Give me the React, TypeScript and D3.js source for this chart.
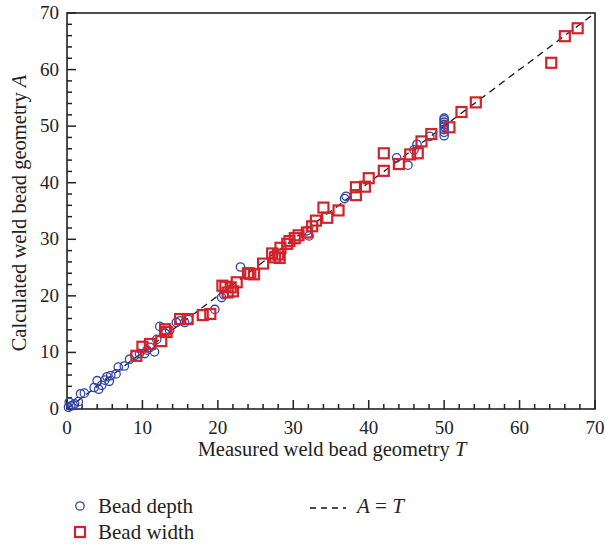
import React from 'react'
import * as d3 from 'd3'

// Bead depth: [measured T, calculated A]
const beadDepth: [number, number][] = [
  [0.2, 0.3], [0.5, 0.5], [0.8, 0.7], [1.0, 0.9], [0.3, 1.2], [1.5, 1.3],
  [1.8, 2.7], [2.3, 2.8], [3.6, 3.8], [4.0, 5.0], [4.2, 3.5], [4.6, 4.2],
  [5.0, 5.1], [5.3, 5.7], [5.8, 5.9], [5.6, 4.9], [6.5, 6.2], [6.8, 7.4],
  [7.6, 7.6], [8.3, 8.8], [9.0, 9.5], [9.6, 9.8], [10.3, 9.8], [10.6, 10.4],
  [11.0, 10.9], [11.6, 10.1], [11.9, 12.3], [12.3, 14.6], [13.0, 13.4],
  [13.6, 13.9], [14.5, 15.3], [15.0, 15.6], [15.6, 15.3], [16.1, 15.8],
  [19.6, 17.6], [20.5, 19.7], [20.8, 20.2], [23.0, 25.1], [27.4, 27.2],
  [31.8, 31.5], [32.1, 30.6], [36.8, 37.2], [37.0, 37.6], [43.7, 44.4],
  [45.2, 43.1], [46.0, 45.8], [46.4, 46.8], [48.1, 48.2],
  [50.0, 48.3], [50.0, 48.9], [50.0, 49.4], [50.0, 49.9], [50.0, 50.3],
  [50.0, 50.7], [50.0, 51.1], [50.0, 51.4]
]

// Bead width: [measured T, calculated A]
const beadWidth: [number, number][] = [
  [9.2, 9.4], [10.0, 11.0], [11.0, 11.5], [12.5, 12.0], [13.0, 14.1],
  [13.2, 13.6], [15.0, 15.9], [16.0, 15.9], [18.0, 16.6], [19.0, 16.8],
  [20.6, 21.8], [21.0, 21.6], [21.3, 20.6], [21.7, 21.5], [22.0, 20.8],
  [22.5, 22.4], [24.0, 24.0], [24.3, 23.9], [24.8, 23.8], [26.0, 25.7],
  [27.2, 27.5], [27.6, 26.8], [28.0, 27.3], [28.2, 26.7], [28.3, 28.5],
  [29.2, 29.2], [29.5, 29.7], [30.2, 30.2], [30.7, 30.7], [31.8, 31.2],
  [32.5, 32.3], [33.0, 33.3], [34.0, 35.6], [34.5, 33.8], [36.0, 35.1],
  [38.3, 37.8], [38.3, 39.2], [39.5, 39.3], [40.0, 40.8], [42.0, 42.1],
  [42.0, 45.2], [44.0, 43.3], [45.5, 45.0], [46.5, 45.2], [47.0, 47.3],
  [48.3, 48.6], [50.7, 49.8], [52.3, 52.5], [54.2, 54.2], [64.2, 61.2],
  [66.0, 65.9], [67.7, 67.3]
]

const xTicks = [0, 10, 20, 30, 40, 50, 60, 70]
const yTicks = [0, 10, 20, 30, 40, 50, 60, 70]
const minorTicks = d3.range(0, 71, 2)

const blue = '#3146a6'
const red = '#d2232a'
const ink = '#222'
const font = '"Liberation Serif", "DejaVu Serif", serif'

const left = 67, right = 595, top = 13, bottom = 409
const x = d3.scaleLinear().domain([0, 70]).range([left, right])
const y = d3.scaleLinear().domain([0, 70]).range([bottom, top])
const s = 10

export default function App() {
  return (
    <svg width={605} height={545}
      style={{ position: 'absolute', left: 0, top: 0, background: '#fff' }}
      fontFamily={font} fill={ink}>
      {/* A = T line */}
      <line x1={x(0)} y1={y(0)} x2={x(70)} y2={y(70)}
        stroke="#111" strokeWidth={1.3} strokeDasharray="7,5" />

      {/* frame */}
      <rect x={left} y={top} width={right - left} height={bottom - top}
        fill="none" stroke={ink} strokeWidth={1.6} />

      {/* inward ticks */}
      {minorTicks.map(v => {
        const len = v % 10 === 0 ? 9 : 5
        return (
          <g key={v} stroke={ink} strokeWidth={1.5}>
            <line x1={x(v)} x2={x(v)} y1={bottom} y2={bottom - len} />
            <line x1={left} x2={left + len} y1={y(v)} y2={y(v)} />
          </g>
        )
      })}

      {/* tick labels */}
      <g fontSize={19}>
        {xTicks.map(v => (
          <text key={'x' + v} x={x(v)} y={bottom + 25} textAnchor="middle">{v}</text>
        ))}
        {yTicks.map(v => (
          <text key={'y' + v} x={left - 8} y={y(v) + 6} textAnchor="end">{v}</text>
        ))}
      </g>

      {/* axis titles */}
      <g fontSize={20.5}>
        <text x={332} y={456} textAnchor="middle">
          Measured weld bead geometry <tspan fontStyle="italic">T</tspan>
        </text>
        <text transform={`translate(26,${(top + bottom) / 2 + 2}) rotate(-90)`} textAnchor="middle">
          Calculated weld bead geometry <tspan fontStyle="italic">A</tspan>
        </text>
      </g>

      {/* bead depth */}
      {beadDepth.map((d, i) => (
        <circle key={'c' + i} cx={x(d[0])} cy={y(d[1])} r={4.2}
          fill="none" stroke={blue} strokeWidth={1.3} />
      ))}

      {/* bead width */}
      {beadWidth.map((d, i) => (
        <rect key={'r' + i} x={x(d[0]) - s / 2} y={y(d[1]) - s / 2} width={s} height={s}
          fill="none" stroke={red} strokeWidth={2.2} />
      ))}

      {/* legend */}
      <g fontSize={21}>
        <circle cx={80} cy={506} r={4.2} fill="none" stroke={blue} strokeWidth={1.3} />
        <text x={98} y={513}>Bead depth</text>
        <rect x={75} y={527} width={s} height={s} fill="none" stroke={red} strokeWidth={2.2} />
        <text x={98} y={539}>Bead width</text>
        <line x1={310} x2={346} y1={508} y2={508} stroke="#111" strokeWidth={1.3} strokeDasharray="6,5" />
        <text x={357} y={513}>
          <tspan fontStyle="italic">A</tspan> = <tspan fontStyle="italic">T</tspan>
        </text>
      </g>
    </svg>
  )
}
